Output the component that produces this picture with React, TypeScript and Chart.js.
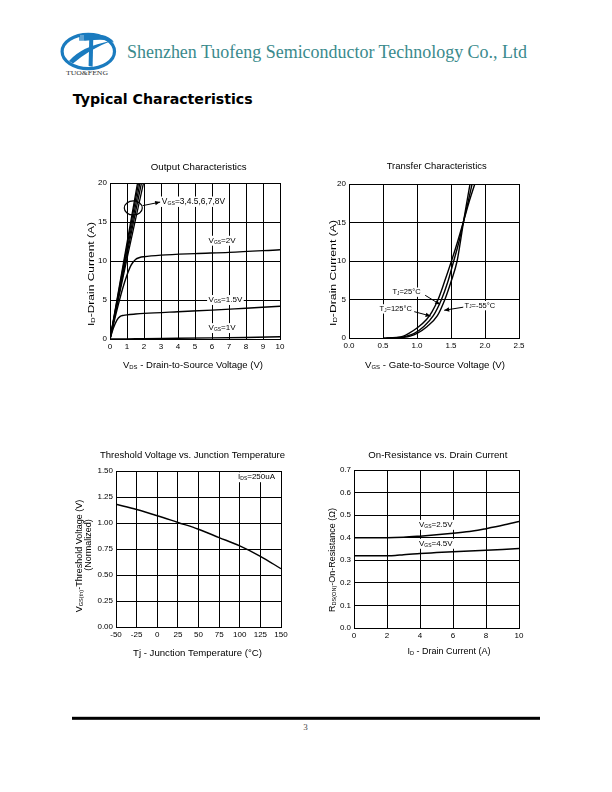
import React, { useEffect, useRef } from "react";
import { Chart, registerables } from "chart.js";

Chart.register(...registerables);

const FONT = "'Liberation Sans', Arial, Helvetica, sans-serif";

// ---------------- Output characteristics (VDS [V] -> ID [A]) ----------------
const outVgs1Vds = [0, 1, 2, 4, 6, 8, 10];
const outVgs1Id = [0, 0.02, 0.05, 0.09, 0.14, 0.2, 0.28];
const outVgs15Vds = [0, 0.2, 0.4, 0.6, 0.8, 1, 1.5, 2, 4, 6, 8, 10];
const outVgs15Id = [0, 1.4, 2.4, 2.9, 3.03, 3.1, 3.2, 3.28, 3.5, 3.7, 3.95, 4.2];
const outVgs2Vds = [0, 0.25, 0.5, 0.75, 1, 1.25, 1.5, 1.75, 2, 3, 5, 7, 10];
const outVgs2Id = [0, 2.3, 4.5, 6.5, 8.2, 9.5, 10.2, 10.45, 10.55, 10.75, 10.95, 11.1, 11.45];
const outVgs3Vds = [0, 1.0, 1.97];
const outVgs3Id = [0, 10.3, 20];
const outVgs45Vds = [0, 0.93, 1.85];
const outVgs45Id = [0, 10.1, 20];
const outVgs6Vds = [0, 0.88, 1.76];
const outVgs6Id = [0, 10.0, 20];
const outVgs7Vds = [0, 0.84, 1.68];
const outVgs7Id = [0, 10.0, 20];
const outVgs8Vds = [0, 0.81, 1.62];
const outVgs8Id = [0, 10.0, 20];
const outXTicks = [0, 1, 2, 3, 4, 5, 6, 7, 8, 9, 10];
const outXLabels = ["0", "1", "2", "3", "4", "5", "6", "7", "8", "9", "10"];
const outYTicks = [0, 5, 10, 15, 20];
const outYLabels = ["0", "5", "10", "15", "20"];

// ---------------- Transfer characteristics (VGS [V] -> ID [A]) ----------------
const trT125Vgs = [0.5, 0.7, 0.8, 0.88, 1.0, 1.14, 1.22, 1.31, 1.4, 1.5, 1.6, 1.68, 1.76, 1.85];
const trT125Id = [0, 0.08, 0.25, 0.6, 1.3, 2.4, 3.4, 5.0, 7.2, 9.8, 12.6, 15.0, 17.5, 20];
const trT25Vgs = [0.55, 0.75, 0.85, 0.96, 1.1, 1.24, 1.36, 1.45, 1.54, 1.62, 1.68, 1.75, 1.81];
const trT25Id = [0, 0.08, 0.25, 0.6, 1.5, 2.9, 5.0, 7.2, 10.0, 12.6, 15.0, 17.6, 20];
const trTm55Vgs = [0.6, 0.8, 0.9, 1.0, 1.15, 1.3, 1.41, 1.5, 1.59, 1.64, 1.68, 1.73, 1.78];
const trTm55Id = [0, 0.08, 0.25, 0.6, 1.5, 2.9, 5.0, 7.3, 10.0, 12.6, 14.9, 17.5, 20];
const trXTicks = [0, 0.5, 1, 1.5, 2, 2.5];
const trXLabels = ["0.0", "0.5", "1.0", "1.5", "2.0", "2.5"];
const trYTicks = [0, 5, 10, 15, 20];
const trYLabels = ["0", "5", "10", "15", "20"];

// ---------------- Threshold voltage vs junction temperature ----------------
const thTemp = [-50, -25, 0, 25, 50, 75, 100, 125, 150];
const thVth = [1.18, 1.13, 1.07, 1.005, 0.94, 0.86, 0.78, 0.68, 0.56];
const thXTicks = [-50, -25, 0, 25, 50, 75, 100, 125, 150];
const thXLabels = ["-50", "-25", "0", "25", "50", "75", "100", "125", "150"];
const thYTicks = [0, 0.25, 0.5, 0.75, 1, 1.25, 1.5];
const thYLabels = ["0.00", "0.25", "0.50", "0.75", "1.00", "1.25", "1.50"];

// ---------------- On-resistance vs drain current ----------------
const rdsVgs25Id = [0, 1, 2, 3, 4, 5, 6, 7, 7.5, 8, 9, 10];
const rdsVgs25R = [0.4, 0.4, 0.4, 0.402, 0.407, 0.413, 0.42, 0.428, 0.433, 0.44, 0.455, 0.472];
const rdsVgs45Id = [0, 1, 2, 2.5, 3, 4, 5, 6, 7, 8, 9, 10];
const rdsVgs45R = [0.32, 0.32, 0.32, 0.321, 0.325, 0.33, 0.334, 0.338, 0.341, 0.344, 0.348, 0.352];
const rdsXTicks = [0, 2, 4, 6, 8, 10];
const rdsXLabels = ["0", "2", "4", "6", "8", "10"];
const rdsYTicks = [0, 0.1, 0.2, 0.3, 0.4, 0.5, 0.6, 0.7];
const rdsYLabels = ["0.0", "0.1", "0.2", "0.3", "0.4", "0.5", "0.6", "0.7"];

// ---------------- types ----------------
type Series = { xs: number[]; ys: number[]; w?: number; smooth?: boolean };
type Txt = {
  segs: string[];
  x: number;
  y: number;
  data?: boolean;
  align?: "left" | "center" | "right";
  rot?: number;
  size?: number;
  bg?: boolean;
  len?: number;
};
type Arrow = { x1: number; y1: number; x2: number; y2: number };
type Ell = { x: number; y: number; rx: number; ry: number };
type Spec = {
  rect: [number, number, number, number];
  xr: [number, number];
  yr: [number, number];
  xTicks: number[];
  xLabels: string[];
  yTicks: number[];
  yLabels: string[];
  series: Series[];
  texts: Txt[];
  arrows?: Arrow[];
  ellipses?: Ell[];
};

const ML = 62;
const MT = 42;
const MR = 22;
const MB = 46;

function drawRich(
  ctx: CanvasRenderingContext2D,
  segs: string[],
  x: number,
  y: number,
  size: number,
  align: "left" | "center" | "right",
  rot: number,
  bg: boolean,
  len?: number
) {
  const parts = segs.map((s) => (s.startsWith("_") ? { t: s.slice(1), sub: true } : { t: s, sub: false }));
  const fontOf = (sub: boolean) => `${sub ? size * 0.62 : size}px ${FONT}`;
  let w = 0;
  const ws = parts.map((p) => {
    ctx.font = fontOf(p.sub);
    const m = ctx.measureText(p.t).width;
    w += m;
    return m;
  });
  ctx.save();
  ctx.translate(x, y);
  if (rot) ctx.rotate(rot);
  if (len) ctx.scale(len / w, 1);
  let sx = align === "left" ? 0 : align === "right" ? -w : -w / 2;
  if (bg) {
    ctx.fillStyle = "#fff";
    ctx.fillRect(sx - 1.5, -size * 0.62, w + 3, size * 1.24);
  }
  ctx.fillStyle = "#000";
  ctx.textBaseline = "middle";
  ctx.textAlign = "left";
  parts.forEach((p, i) => {
    ctx.font = fontOf(p.sub);
    ctx.fillText(p.t, sx, p.sub ? size * 0.2 : 0);
    sx += ws[i];
  });
  ctx.restore();
}

function drawArrow(ctx: CanvasRenderingContext2D, x1: number, y1: number, x2: number, y2: number) {
  ctx.beginPath();
  ctx.moveTo(x1, y1);
  ctx.lineTo(x2, y2);
  ctx.lineWidth = 1;
  ctx.strokeStyle = "#000";
  ctx.stroke();
  const a = Math.atan2(y2 - y1, x2 - x1);
  const L = 5;
  const H = 2.2;
  ctx.beginPath();
  ctx.moveTo(x2, y2);
  ctx.lineTo(x2 - L * Math.cos(a) + H * Math.sin(a), y2 - L * Math.sin(a) - H * Math.cos(a));
  ctx.lineTo(x2 - L * Math.cos(a) - H * Math.sin(a), y2 - L * Math.sin(a) + H * Math.cos(a));
  ctx.closePath();
  ctx.fillStyle = "#000";
  ctx.fill();
}

function makePlugin(spec: Spec, ox: number, oy: number) {
  return {
    id: "annot",
    afterDatasetsDraw(chart: any) {
      const ctx: CanvasRenderingContext2D = chart.ctx;
      const xs = chart.scales.x;
      const ys = chart.scales.y;
      const px = (v: number) => xs.getPixelForValue(v);
      const py = (v: number) => ys.getPixelForValue(v);
      ctx.save();
      for (const e of spec.ellipses || []) {
        ctx.beginPath();
        ctx.ellipse(px(e.x), py(e.y), e.rx, e.ry, 0, 0, Math.PI * 2);
        ctx.lineWidth = 1.2;
        ctx.strokeStyle = "#000";
        ctx.stroke();
      }
      for (const t of spec.texts) {
        const x = t.data ? px(t.x) : t.x - ox;
        const y = t.data ? py(t.y) : t.y - oy;
        drawRich(ctx, t.segs, x, y, t.size ?? 9.5, t.align ?? "center", t.rot ?? 0, !!t.bg, t.len);
      }
      for (const a of spec.arrows || []) {
        drawArrow(ctx, px(a.x1), py(a.y1), px(a.x2), py(a.y2));
      }
      ctx.restore();
    },
  };
}

function axis(min: number, max: number, ticks: number[], labels: string[], fit: (s: any) => void) {
  return {
    type: "linear" as const,
    min,
    max,
    afterBuildTicks: (s: any) => {
      s.ticks = ticks.map((v) => ({ value: v }));
    },
    afterFit: fit,
    ticks: {
      color: "#000",
      font: { family: FONT, size: 8 },
      padding: 3,
      autoSkip: false,
      maxRotation: 0,
      minRotation: 0,
      callback: (_v: any, i: number) => labels[i],
    },
    grid: { color: "#000", lineWidth: 1, drawTicks: false },
    border: { color: "#000", width: 1 },
  };
}

function ChartBox({ spec }: { spec: Spec }) {
  const ref = useRef<HTMLCanvasElement>(null);
  const [L, T, R, B] = spec.rect;
  const left = L - ML;
  const top = T - MT;
  const w = R - L + ML + MR;
  const h = B - T + MT + MB;
  useEffect(() => {
    const chart = new Chart(ref.current as HTMLCanvasElement, {
      type: "line",
      data: {
        datasets: spec.series.map((s) => ({
          data: s.xs.map((x, i) => ({ x, y: s.ys[i] })),
          borderColor: "#000",
          borderWidth: s.w ?? 1.4,
          pointRadius: 0,
          fill: false,
          tension: s.smooth === false ? 0 : 0.4,
          cubicInterpolationMode: s.smooth === false ? "default" : "monotone",
        })) as any,
      },
      options: {
        responsive: false,
        animation: false,
        events: [],
        layout: { padding: { left: 0, top: MT, right: MR, bottom: 0 } },
        plugins: {
          legend: { display: false },
          title: { display: false },
          tooltip: { enabled: false },
        },
        scales: {
          x: axis(spec.xr[0], spec.xr[1], spec.xTicks, spec.xLabels, (s: any) => {
            s.height = MB;
          }),
          y: axis(spec.yr[0], spec.yr[1], spec.yTicks, spec.yLabels, (s: any) => {
            s.width = ML;
          }),
        } as any,
      },
      plugins: [makePlugin(spec, left, top) as any],
    });
    return () => chart.destroy();
  }, []);
  return (
    <canvas
      ref={ref}
      width={w}
      height={h}
      style={{ position: "absolute", left, top, width: w, height: h }}
    />
  );
}

const outputSpec: Spec = {
  rect: [110, 183, 280, 339],
  xr: [0, 10],
  yr: [0, 20],
  xTicks: outXTicks,
  xLabels: outXLabels,
  yTicks: outYTicks,
  yLabels: outYLabels,
  series: [
    { xs: outVgs1Vds, ys: outVgs1Id },
    { xs: outVgs15Vds, ys: outVgs15Id },
    { xs: outVgs2Vds, ys: outVgs2Id },
    { xs: outVgs3Vds, ys: outVgs3Id, w: 1.3 },
    { xs: outVgs45Vds, ys: outVgs45Id, w: 1.3 },
    { xs: outVgs6Vds, ys: outVgs6Id, w: 1.3 },
    { xs: outVgs7Vds, ys: outVgs7Id, w: 1.3 },
    { xs: outVgs8Vds, ys: outVgs8Id, w: 1.3 },
  ],
  texts: [
    { segs: ["Output Characteristics"], x: 198.7, y: 167.5, len: 96 },
    { segs: ["I", "_D", "-Drain Current (A)"], x: 91.5, y: 274, rot: -Math.PI / 2, size: 9, len: 104 },
    { segs: ["V", "_DS", " - Drain-to-Source Voltage (V)"], x: 193, y: 365, len: 140 },
    { segs: ["V", "_GS", "=3,4.5,6,7,8V"], x: 3.05, y: 17.6, data: true, align: "left", size: 8.4, bg: true },
    { segs: ["V", "_GS", "=2V"], x: 5.8, y: 12.6, data: true, align: "left", size: 8, bg: true },
    { segs: ["V", "_GS", "=1.5V"], x: 5.8, y: 5.0, data: true, align: "left", size: 8, bg: true },
    { segs: ["V", "_GS", "=1V"], x: 5.8, y: 1.4, data: true, align: "left", size: 8, bg: true },
  ],
  arrows: [{ x1: 1.92, y1: 17.1, x2: 2.95, y2: 17.55 }],
  ellipses: [{ x: 1.37, y: 16.8, rx: 9, ry: 7 }],
};

const transferSpec: Spec = {
  rect: [349, 184, 519, 338],
  xr: [0, 2.5],
  yr: [0, 20],
  xTicks: trXTicks,
  xLabels: trXLabels,
  yTicks: trYTicks,
  yLabels: trYLabels,
  series: [
    { xs: trT125Vgs, ys: trT125Id },
    { xs: trT25Vgs, ys: trT25Id },
    { xs: trTm55Vgs, ys: trTm55Id },
  ],
  texts: [
    { segs: ["Transfer Characteristics"], x: 436.7, y: 166.7, len: 100 },
    { segs: ["I", "_D", "-Drain Current (A)"], x: 333.5, y: 273, rot: -Math.PI / 2, size: 9, len: 106 },
    { segs: ["V", "_GS", " - Gate-to-Source Voltage (V)"], x: 435, y: 365, len: 140 },
    { segs: ["T", "_J", "=25°C"], x: 0.64, y: 5.95, data: true, align: "left", size: 7.5, bg: true },
    { segs: ["T", "_J", "=125°C"], x: 0.45, y: 3.78, data: true, align: "left", size: 7.5, bg: true },
    { segs: ["T", "_J", "=-55°C"], x: 1.7, y: 4.2, data: true, align: "left", size: 7.5, bg: true },
  ],
  arrows: [
    { x1: 1.12, y1: 5.55, x2: 1.34, y2: 4.35 },
    { x1: 0.96, y1: 3.42, x2: 1.2, y2: 2.85 },
    { x1: 1.68, y1: 4.0, x2: 1.4, y2: 3.6 },
  ],
};

const thresholdSpec: Spec = {
  rect: [116, 471, 281, 627],
  xr: [-50, 150],
  yr: [0, 1.5],
  xTicks: thXTicks,
  xLabels: thXLabels,
  yTicks: thYTicks,
  yLabels: thYLabels,
  series: [{ xs: thTemp, ys: thVth }],
  texts: [
    { segs: ["Threshold Voltage vs. Junction Temperature"], x: 192.5, y: 455, len: 185 },
    { segs: ["V", "_GS(th)", "-Threshold Voltage (V)"], x: 80, y: 556, rot: -Math.PI / 2, size: 9 },
    { segs: ["(Normalized)"], x: 89, y: 545, rot: -Math.PI / 2, size: 9 },
    { segs: ["Tj - Junction Temperature (°C)"], x: 197.5, y: 653, len: 129 },
    { segs: ["I", "_DS", "=250uA"], x: 98, y: 1.44, data: true, align: "left", size: 8, bg: true },
  ],
};

const rdsSpec: Spec = {
  rect: [354, 470, 519, 628],
  xr: [0, 10],
  yr: [0, 0.7],
  xTicks: rdsXTicks,
  xLabels: rdsXLabels,
  yTicks: rdsYTicks,
  yLabels: rdsYLabels,
  series: [
    { xs: rdsVgs25Id, ys: rdsVgs25R, w: 1.5 },
    { xs: rdsVgs45Id, ys: rdsVgs45R, w: 1.5 },
  ],
  texts: [
    { segs: ["On-Resistance vs. Drain Current"], x: 437.8, y: 455, len: 139 },
    { segs: ["R", "_DS(ON)", "-On-Resistance (Ω)"], x: 333, y: 560, rot: -Math.PI / 2, size: 9 },
    { segs: ["I", "_D", " - Drain Current (A)"], x: 449, y: 652, size: 9 },
    { segs: ["V", "_GS", "=2.5V"], x: 3.94, y: 0.457, data: true, align: "left", size: 8, bg: true },
    { segs: ["V", "_GS", "=4.5V"], x: 3.94, y: 0.373, data: true, align: "left", size: 8, bg: true },
  ],
};

const BLUE = "#1a7bbf";

export default function App() {
  return (
    <div style={{ position: "absolute", left: 0, top: 0, width: 612, height: 792, background: "#fff" }}>
      <svg width={612} height={792} style={{ position: "absolute", left: 0, top: 0 }}>
        <rect x={0} y={0} width={612} height={792} fill="#fff" />
        <ellipse cx={88.3} cy={51.5} rx={26.2} ry={17.2} fill="none" stroke={BLUE} strokeWidth={3.2} />
        <rect x={79.3} y={35} width={5.7} height={5.7} fill={BLUE} />
        <line x1={81} y1={35} x2={81} y2={40.7} stroke="#fff" strokeWidth={0.6} />
        <line x1={83} y1={35} x2={83} y2={40.7} stroke="#fff" strokeWidth={0.6} />
        <path d="M85 35 L101 35 Q110 36 114 42.5 Q106 38.6 94 40 L85 40.7 Z" fill={BLUE} />
        <path d="M89.3 37 L93.3 37 L92.6 66.7 L88.6 66 Z" fill={BLUE} />
        <path d="M69 61 Q82 46 111 41 Q90 49 73 63.5 Z" fill={BLUE} />
        <text
          x={66}
          y={74.8}
          fontFamily="'Liberation Serif', 'Times New Roman', serif"
          fontSize={6.5}
          fill="#333"
          textLength={42}
          lengthAdjust="spacingAndGlyphs"
        >
          TUO&amp;FENG
        </text>
        <text
          x={127}
          y={57.7}
          fontFamily="'Liberation Serif', 'Times New Roman', serif"
          fontSize={18}
          fill="#3a8a8c"
          textLength={400}
          lengthAdjust="spacingAndGlyphs"
        >
          Shenzhen Tuofeng Semiconductor Technology Co., Ltd
        </text>
        <text
          x={72.7}
          y={104.3}
          fontFamily="'DejaVu Sans', Verdana, sans-serif"
          fontWeight="bold"
          fontSize={14}
          fill="#000"
          textLength={180}
          lengthAdjust="spacingAndGlyphs"
        >
          Typical Characteristics
        </text>
        <rect x={72} y={716.8} width={468} height={3} fill="#000" />
        <text x={305.5} y={730} textAnchor="middle" fontFamily="'Liberation Serif', serif" fontSize={9} fill="#444">
          3
        </text>
      </svg>
      <ChartBox spec={outputSpec} />
      <ChartBox spec={transferSpec} />
      <ChartBox spec={thresholdSpec} />
      <ChartBox spec={rdsSpec} />
    </div>
  );
}
